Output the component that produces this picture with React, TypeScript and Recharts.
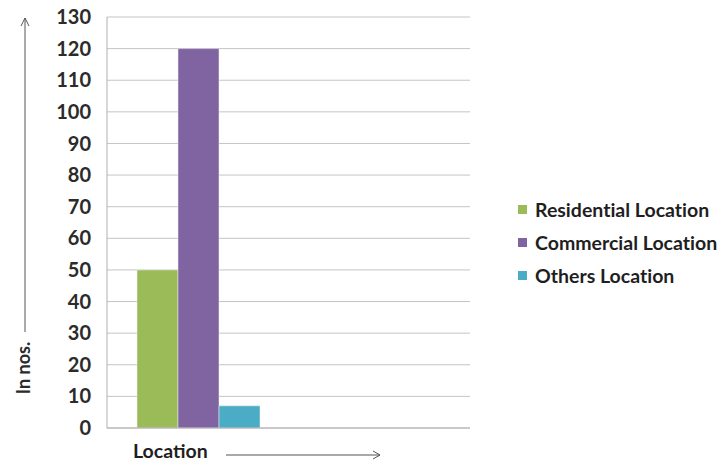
import React from 'react';
import { BarChart, Bar, XAxis, YAxis, CartesianGrid } from 'recharts';

// Location survey counts (second slot left empty so the group sits in the left half)
const categories = ['Location', ''];
const residential = [50, null];
const commercial = [120, null];
const others = [7, null];
const yTicks = [0, 10, 20, 30, 40, 50, 60, 70, 80, 90, 100, 110, 120, 130];

const SERIES = [
    { key: 'residential', name: 'Residential Location', color: '#9bbb59' },
    { key: 'commercial', name: 'Commercial Location', color: '#8064a2' },
    { key: 'others', name: 'Others Location', color: '#4bacc6' },
];

const data = categories.map((name, i) => ({
    name,
    residential: residential[i],
    commercial: commercial[i],
    others: others[i],
}));

const FONT = 'Lato, "Open Sans", sans-serif';

// "In nos." rotated title with an upward arrow
const YTitle = () => (
    <g>
        <text
            x={0}
            y={0}
            transform="translate(30, 368) rotate(-90)"
            textAnchor="middle"
            fontFamily={FONT}
            fontSize={18}
            fontWeight={700}
            fill="#2b2b2b"
        >
            In nos.
        </text>
        <line x1={25} y1={332} x2={25} y2={18} stroke="#555" strokeWidth={1} />
        <polyline points="21,26 25,18 29,26" fill="none" stroke="#555" strokeWidth={1} />
    </g>
);

// "Location" title with a rightward arrow
const XTitle = () => (
    <g>
        <text x={133} y={458} fontFamily={FONT} fontSize={19.5} fontWeight={700} fill="#1f1f1f">
            Location
        </text>
        <line x1={226} y1={455} x2={380} y2={455} stroke="#555" strokeWidth={1} />
        <polyline points="373,451 380,455 373,459" fill="none" stroke="#555" strokeWidth={1} />
    </g>
);

const LegendBox = () => (
    <div style={{ position: 'absolute', left: 518, top: 193, fontFamily: FONT, fontVariantLigatures: 'none' }}>
        {SERIES.map(s => (
            <div
                key={s.key}
                style={{ display: 'flex', alignItems: 'center', height: 33, fontSize: 19.5, fontWeight: 700, color: '#1f1f1f' }}
            >
                <span style={{ width: 9, height: 9, background: s.color, marginRight: 8 }} />
                <span>{s.name}</span>
            </div>
        ))}
    </div>
);

export default function App() {
    return (
        <div style={{ position: 'absolute', left: 0, top: 0, width: 723, height: 463, background: '#fff' }}>
            <BarChart
                width={723}
                height={463}
                data={data}
                margin={{ top: 17, right: 253, bottom: 0, left: 0 }}
                barGap={0}
                barCategoryGap={30}
            >
                <CartesianGrid vertical={false} stroke="#c4c4c4" />
                <XAxis
                    dataKey="name"
                    height={35}
                    tick={false}
                    tickLine={false}
                    axisLine={{ stroke: '#b0b0b0' }}
                    label={{ content: () => <XTitle /> }}
                />
                <YAxis
                    width={107}
                    domain={[0, 130]}
                    ticks={yTicks}
                    interval={0}
                    tickLine={false}
                    axisLine={{ stroke: '#b0b0b0' }}
                    tickMargin={10}
                    tick={{ fontFamily: FONT, fontSize: 20, fontWeight: 700, fill: '#2b2b2b' }}
                    label={{ content: () => <YTitle /> }}
                />
                {SERIES.map(s => (
                    <Bar
                        key={s.key}
                        dataKey={s.key}
                        name={s.name}
                        fill={s.color}
                        stroke="#f2f2f2"
                        strokeWidth={0.5}
                        isAnimationActive={false}
                    />
                ))}
            </BarChart>
            <LegendBox />
        </div>
    );
}
